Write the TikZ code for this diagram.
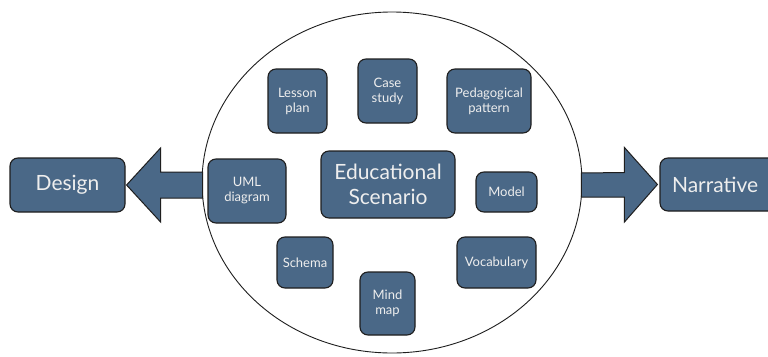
\documentclass[tikz,border=0pt]{standalone}
\usepackage{fontspec}
\setmainfont{Lato}
\usetikzlibrary{shapes.geometric,calc}
\definecolor{boxblue}{HTML}{4A6887}
\definecolor{boxtext}{HTML}{EEEEEE}
\definecolor{edge}{HTML}{1E1E1E}
\tikzset{
  blk/.style={draw=edge, line width=1.1pt, fill=boxblue, rounded corners=8pt,
    text=boxtext, align=center, inner sep=0pt},
  small/.style={blk, font=\fontsize{13}{15}\selectfont},
  big/.style={blk, font=\fontsize{21}{25}\selectfont},
  barrow/.style={draw=edge, line width=1pt, fill=boxblue, line join=miter},
  ring/.style={draw=edge, ellipse, line width=0.9pt, inner sep=0pt},
}
\begin{document}
\begin{tikzpicture}[x=1pt,y=-1pt]
\clip (0,0) rectangle (768,356);
\fill[white] (0,0) rectangle (768,356);
% big ellipse
\node[ring, minimum width=380pt, minimum height=341pt] (circ) at (392,182.5) {};
% outer boxes
\node[big, minimum width=115pt, minimum height=54pt] (design) at (67.5,185) {Design};
\node[big, minimum width=116pt, minimum height=53pt, text width=108pt, align=left] (narr) at (718,184.5) {\hspace*{8pt}Narrative};
% block arrows
\coordinate (lt) at ($(design.east)+(1,0)$);
\draw[barrow] (lt) -- ++(34,-37) -- ++(0,24) -- ($(circ.west)+(1,-10.5)$)
  -- ($(circ.west)+(1,15.5)$) -- ($(lt)+(34,13)$) -- ($(lt)+(34,37)$) -- cycle;
\coordinate (rt) at ($(narr.west)+(-2,0)$);
\draw[barrow] (rt) -- ++(-33,-37) -- ++(0,25) -- ($(circ.east)+(-1,-9.5)$)
  -- ($(circ.east)+(-1,14.5)$) -- ($(rt)+(-33,12.5)$) -- ($(rt)+(-33,37.5)$) -- cycle;
% inner boxes
\node[small, minimum width=59pt, minimum height=64pt] (lesson) at (297.5,101) {Lesson\\plan};
\node[small, minimum width=59pt, minimum height=64pt] (case) at (387.5,91) {Case\\study};
\node[small, minimum width=84pt, minimum height=64pt] (peda) at (489,101) {Pedagogical\\pattern};
\node[big, minimum width=134pt, minimum height=67pt] (scen) at (388,184.5) {Educational\\Scenario};
\node[small, minimum width=78pt, minimum height=64pt] (uml) at (247,191) {UML\\diagram};
\node[small, minimum width=61pt, minimum height=40pt] (model) at (506.5,192) {Model};
\node[small, minimum width=56pt, minimum height=51pt] (schema) at (305,262.5) {Schema};
\node[small, minimum width=79pt, minimum height=51pt] (vocab) at (496.5,262.5) {Vocabulary};
\node[small, minimum width=55pt, minimum height=63pt] (mind) at (387.5,303.5) {Mind\\map};
\end{tikzpicture}
\end{document}
